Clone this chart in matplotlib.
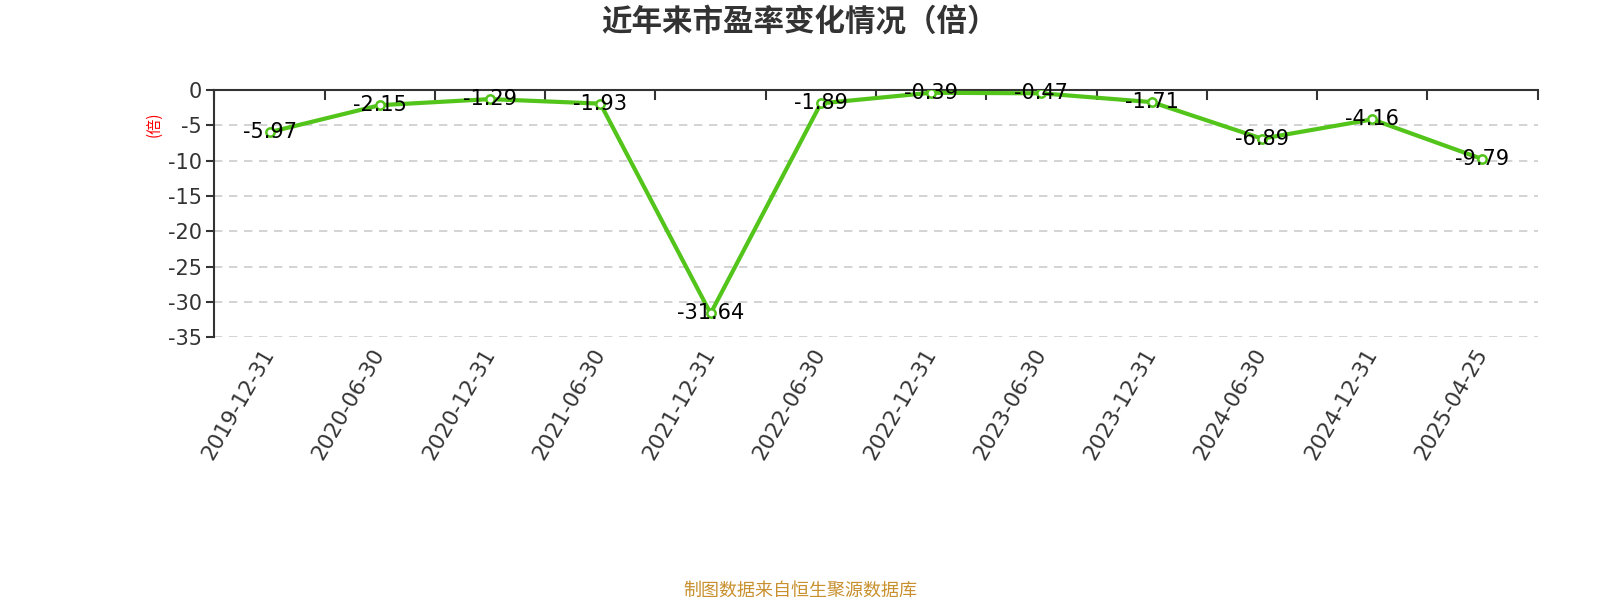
import numpy as np
import matplotlib
matplotlib.use('Agg')
import matplotlib.pyplot as plt
from matplotlib.ticker import FixedLocator

plt.rcParams['font.family'] = ['Noto Sans CJK SC', 'DejaVu Sans']

# =============================================================================
# data
# =============================================================================
dates = ['2019-12-31', '2020-06-30', '2020-12-31', '2021-06-30', '2021-12-31',
         '2022-06-30', '2022-12-31', '2023-06-30', '2023-12-31', '2024-06-30',
         '2024-12-31', '2025-04-25']
pe = [-5.97, -2.15, -1.29, -1.93, -31.64, -1.89, -0.39, -0.47, -1.71, -6.89,
      -4.16, -9.79]
yticks = [0, -5, -10, -15, -20, -25, -30, -35]

green = '#52c41a'
dark = '#333333'
numfont = 'DejaVu Sans'

fig = plt.figure(figsize=(16, 6), dpi=100)
ax = fig.add_axes([0.134, 0.438, 0.827, 0.412])

x = np.arange(len(dates))
ax.plot(x, pe, color=green, lw=3, zorder=3)
ax.plot(x, pe, ls='none', marker='o', ms=6, mfc='white', mec=green, mew=1.8, zorder=4)

for xi, v in zip(x, pe):
    ax.text(xi, v, f'{v:.2f}', ha='center', va='center', fontsize=15,
            family=numfont, color='black', zorder=5)

ax.set_xlim(-0.5, len(dates) - 0.5)
ax.set_ylim(-35, 0)
ax.set_yticks(yticks)
ax.set_yticklabels([str(t) for t in yticks], fontsize=15, family=numfont, color=dark)
for t in yticks[1:]:
    ax.axhline(t, color='#cccccc', lw=1.2, ls=(0, (5, 4)), zorder=1)

# category labels at the bottom, boundary ticks on the top axis line
ax.set_xticks(x)
ax.set_xticklabels(dates, rotation=60, ha='right', va='center', rotation_mode='anchor',
                   fontsize=15.5, family=numfont, color=dark)
ax.xaxis.set_minor_locator(FixedLocator(np.arange(-0.5, len(dates), 1.0)))
ax.tick_params(axis='x', which='major', length=0, pad=9)
ax.tick_params(axis='x', which='minor', top=True, bottom=False, direction='in',
               length=7, width=1.5, color=dark)
ax.tick_params(axis='y', length=6, width=1.5, color=dark, pad=3)

for s in ['right', 'bottom']:
    ax.spines[s].set_visible(False)
for s in ['left', 'top']:
    ax.spines[s].set_color(dark)
    ax.spines[s].set_linewidth(1.5)

fig.text(0.096, 0.793, '(倍)', color='red', fontsize=11, rotation=90,
         ha='center', va='center')
fig.text(0.5, 0.962, '近年来市盈率变化情况（倍）', fontsize=22, fontweight='bold',
         color=dark, ha='center', va='center')
fig.text(0.5, 0.016, '制图数据来自恒生聚源数据库', fontsize=13, color='#c8902e',
         ha='center', va='center')

fig.savefig('out.png', dpi=100)
